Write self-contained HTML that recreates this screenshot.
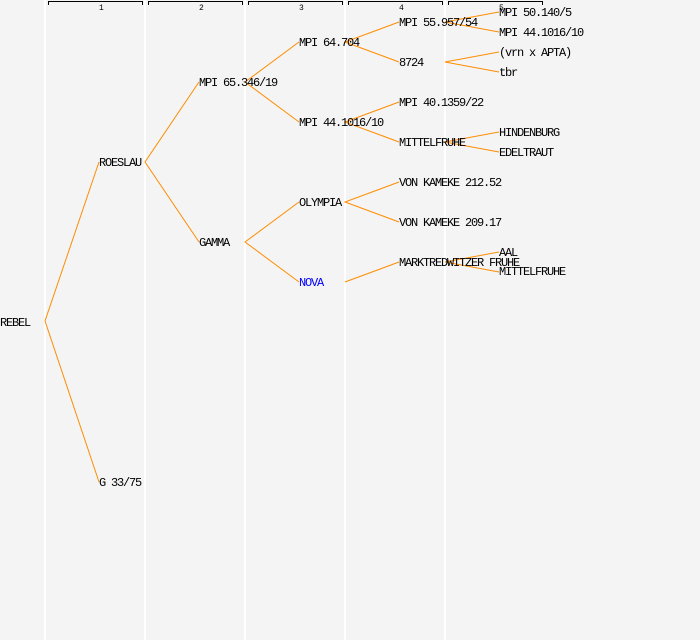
<!DOCTYPE html>
<html><head><meta charset="utf-8"><style>
html,body{margin:0;padding:0;background:#f4f4f4;}
svg{display:block}
text{font-family:"Liberation Mono","DejaVu Sans Mono",monospace;font-size:12px;letter-spacing:-1.2px;fill:#000}
.n{font-size:8px;letter-spacing:0}
</style></head><body>
<svg width="700" height="640" xmlns="http://www.w3.org/2000/svg">
<rect width="700" height="640" fill="#f4f4f4"/>
<g stroke="#ffffff" stroke-width="2">
<line x1="45" y1="0" x2="45" y2="640"/><line x1="145" y1="0" x2="145" y2="640"/>
<line x1="245" y1="0" x2="245" y2="640"/><line x1="345" y1="0" x2="345" y2="640"/>
<line x1="445" y1="0" x2="445" y2="640"/>
</g>
<g stroke="#000" stroke-width="1" fill="none">
<path d="M48.5 5V1.5H142.5V5"/><path d="M148.5 5V1.5H242.5V5"/><path d="M248.5 5V1.5H342.5V5"/>
<path d="M348.5 5V1.5H442.5V5"/><path d="M448.5 5V1.5H542.5V5"/>
</g>
<text class="n" x="99" y="10">1</text><text class="n" x="199" y="10">2</text><text class="n" x="299" y="10">3</text>
<text class="n" x="399" y="10">4</text><text class="n" x="499" y="10">5</text>
<g stroke="#ff8c00" stroke-width="1" fill="none">
<polyline points="99,162 45,321 99,482"/>
<polyline points="199,82 145,162 199,242"/>
<polyline points="299,42 245,82 299,122"/>
<polyline points="299,202 245,242 299,282"/>
<polyline points="399,22 345,42 399,62"/>
<polyline points="399,102 345,122 399,142"/>
<polyline points="399,182 345,202 399,222"/>
<polyline points="345,282 399,262"/>
<polyline points="499,12 445,22 499,32"/>
<polyline points="499,52 445,62 499,72"/>
<polyline points="499,132 445,142 499,152"/>
<polyline points="499,252 445,262 499,272"/>
</g>
<g>
<text x="0" y="326">REBEL</text>
<text x="99" y="166">ROESLAU</text>
<text x="99" y="486">G 33/75</text>
<text x="199" y="86">MPI 65.346/19</text>
<text x="199" y="246">GAMMA</text>
<text x="299" y="46">MPI 64.704</text>
<text x="299" y="126">MPI 44.1016/10</text>
<text x="299" y="206">OLYMPIA</text>
<text x="299" y="286" style="fill:#0000ff">NOVA</text>
<text x="399" y="26">MPI 55.957/54</text>
<text x="399" y="66">8724</text>
<text x="399" y="106">MPI 40.1359/22</text>
<text x="399" y="146">MITTELFRUHE</text>
<text x="399" y="186">VON KAMEKE 212.52</text>
<text x="399" y="226">VON KAMEKE 209.17</text>
<text x="399" y="266">MARKTREDWITZER FRUHE</text>
<text x="499" y="16">MPI 50.140/5</text>
<text x="499" y="36">MPI 44.1016/10</text>
<text x="499" y="56">(vrn x APTA)</text>
<text x="499" y="76">tbr</text>
<text x="499" y="136">HINDENBURG</text>
<text x="499" y="156">EDELTRAUT</text>
<text x="499" y="256">AAL</text>
<text x="499" y="275">MITTELFRUHE</text>
</g>
</svg>
</body></html>
